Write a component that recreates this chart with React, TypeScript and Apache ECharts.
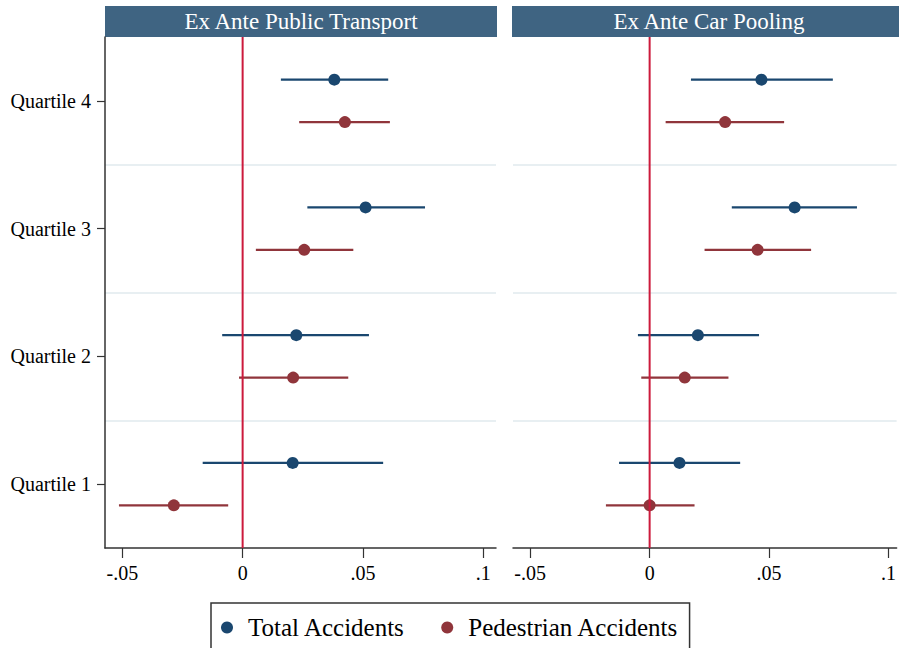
import React, { useEffect, useRef } from "react";
import * as echarts from "echarts";

const quartiles = ["Quartile 1", "Quartile 2", "Quartile 3", "Quartile 4"];
const xTicks = [-0.05, 0, 0.05, 0.1];
const seriesNames = ["Total Accidents", "Pedestrian Accidents"];
const panelTitles = ["Ex Ante Public Transport", "Ex Ante Car Pooling"];
const zeroRef = [0];

// Ex Ante Public Transport (Q1..Q4)
const ptTotalEst = [0.0208, 0.0223, 0.0511, 0.0381];
const ptTotalLo = [-0.0166, -0.0085, 0.0269, 0.0159];
const ptTotalHi = [0.0584, 0.0525, 0.0758, 0.0605];
const ptPedEst = [-0.0286, 0.021, 0.0256, 0.0425];
const ptPedLo = [-0.0514, -0.0015, 0.0055, 0.0235];
const ptPedHi = [-0.006, 0.0439, 0.046, 0.0612];

// Ex Ante Car Pooling (Q1..Q4)
const cpTotalEst = [0.0125, 0.0202, 0.0607, 0.0468];
const cpTotalLo = [-0.0128, -0.0049, 0.0344, 0.0173];
const cpTotalHi = [0.0379, 0.0458, 0.0868, 0.0767];
const cpPedEst = [0.0, 0.0147, 0.0452, 0.0316];
const cpPedLo = [-0.0183, -0.0035, 0.023, 0.0067];
const cpPedHi = [0.0188, 0.033, 0.0676, 0.0563];

const BLUE = "#1a476f";
const RED = "#90353b";
const ZERO = "#cc1a3c";
const FONT = "Liberation Serif";

function build(est: number[], lo: number[], hi: number[]) {
  return est.map((e, i) => [e, lo[i], hi[i], i]);
}

function ciSeries(name: string, idx: number, data: number[][], color: string, sign: number) {
  return {
    type: "custom",
    name,
    xAxisIndex: idx,
    yAxisIndex: idx,
    data,
    encode: { x: [0, 1, 2], y: 3 },
    itemStyle: { color },
    z: 2,
    renderItem: (params: any, api: any) => {
      const cat = api.value(3);
      const c = api.coord([api.value(0), cat]);
      const band = api.size([0, 1])[1];
      const y = c[1] + sign * 0.166 * band;
      const x1 = api.coord([api.value(1), cat])[0];
      const x2 = api.coord([api.value(2), cat])[0];
      return {
        type: "group",
        children: [
          { type: "line", shape: { x1, y1: y, x2, y2: y }, style: { stroke: color, lineWidth: 2.2 } },
          { type: "circle", shape: { cx: c[0], cy: y, r: 6 }, style: { fill: color } },
        ],
      };
    },
  };
}

function zeroSeries(idx: number) {
  return {
    type: "custom",
    name: "zero" + idx,
    xAxisIndex: idx,
    yAxisIndex: idx,
    data: zeroRef.map((v) => [v, 0]),
    encode: { x: 0, y: 1 },
    z: 5,
    silent: true,
    renderItem: (params: any, api: any) => {
      const x = api.coord([api.value(0), 0])[0];
      const cs = params.coordSys;
      return {
        type: "line",
        shape: { x1: x, y1: cs.y, x2: x, y2: cs.y + cs.height },
        style: { stroke: ZERO, lineWidth: 2 },
      };
    },
  };
}

function fmt(v: number) {
  if (v === 0) return "0";
  const s = String(Math.abs(v)).replace(/^0/, "");
  return (v < 0 ? "-" : "") + s;
}

export default function App() {
  const ref = useRef<HTMLDivElement>(null);
  useEffect(() => {
    if (!ref.current) return;
    const chart = echarts.init(ref.current, undefined, { renderer: "svg" });
    const grids = [
      { left: 105, top: 37, width: 391, height: 511 },
      { left: 513, top: 37, right: 0, height: 511 },
    ];
    const xMax = [0.1053, 0.1034];
    const xAxis = [0, 1].map((i) => ({
      type: "value",
      gridIndex: i,
      min: -0.0572,
      max: xMax[i],
      axisLine: { show: true, onZero: false, lineStyle: { color: "#333", width: 1.5 } },
      axisTick: { show: true, customValues: xTicks, length: 10, lineStyle: { color: "#333", width: 1.2 } },
      axisLabel: {
        customValues: xTicks,
        formatter: fmt,
        fontSize: 20,
        fontFamily: FONT,
        color: "#000",
        margin: 15,
      },
      splitLine: { show: false },
    }));
    const yAxis = [0, 1].map((i) => ({
      type: "category",
      gridIndex: i,
      data: quartiles,
      boundaryGap: true,
      axisLine: { show: i === 0, onZero: false, lineStyle: { color: "#333", width: 1.5 } },
      axisTick: { show: i === 0, alignWithLabel: true, length: 8, interval: 0, lineStyle: { color: "#333", width: 1.2 } },
      axisLabel: { show: i === 0, fontSize: 20, fontFamily: FONT, color: "#000", margin: 14, interval: 0 },
      splitLine: {
        show: true,
        interval: 0,
        showMinLine: false,
        showMaxLine: false,
        lineStyle: { color: "#e8eff2", width: 2 },
      },
    }));
    chart.setOption({
      animation: false,
      backgroundColor: "#fff",
      grid: grids,
      xAxis,
      yAxis,
      legend: {
        data: seriesNames,
        left: 211,
        top: 603,
        icon: "circle",
        itemWidth: 12,
        itemHeight: 12,
        itemGap: 36,
        padding: [12, 11, 30, 10],
        borderColor: "#333",
        borderWidth: 1.5,
        textStyle: { fontSize: 25, fontFamily: FONT, color: "#000", padding: [0, 0, 0, 10] },
      },
      graphic: [
        { type: "rect", shape: { x: 105, y: 6, width: 392, height: 31 }, style: { fill: "#3f6482" } },
        { type: "rect", shape: { x: 512, y: 6, width: 400, height: 31 }, style: { fill: "#3f6482" } },
        {
          type: "text",
          x: 301,
          y: 21.5,
          style: { text: panelTitles[0], fill: "#fff", font: `23px "${FONT}"`, textAlign: "center", verticalAlign: "middle" },
        },
        {
          type: "text",
          x: 709,
          y: 21.5,
          style: { text: panelTitles[1], fill: "#fff", font: `23px "${FONT}"`, textAlign: "center", verticalAlign: "middle" },
        },
      ],
      series: [
        ciSeries(seriesNames[0], 0, build(ptTotalEst, ptTotalLo, ptTotalHi), BLUE, -1),
        ciSeries(seriesNames[1], 0, build(ptPedEst, ptPedLo, ptPedHi), RED, 1),
        ciSeries(seriesNames[0], 1, build(cpTotalEst, cpTotalLo, cpTotalHi), BLUE, -1),
        ciSeries(seriesNames[1], 1, build(cpPedEst, cpPedLo, cpPedHi), RED, 1),
        zeroSeries(0),
        zeroSeries(1),
      ],
    });
    return () => chart.dispose();
  }, []);
  return (
    <div
      ref={ref}
      style={{ position: "absolute", left: 0, top: 0, width: 899, height: 648, background: "#fff" }}
    />
  );
}
